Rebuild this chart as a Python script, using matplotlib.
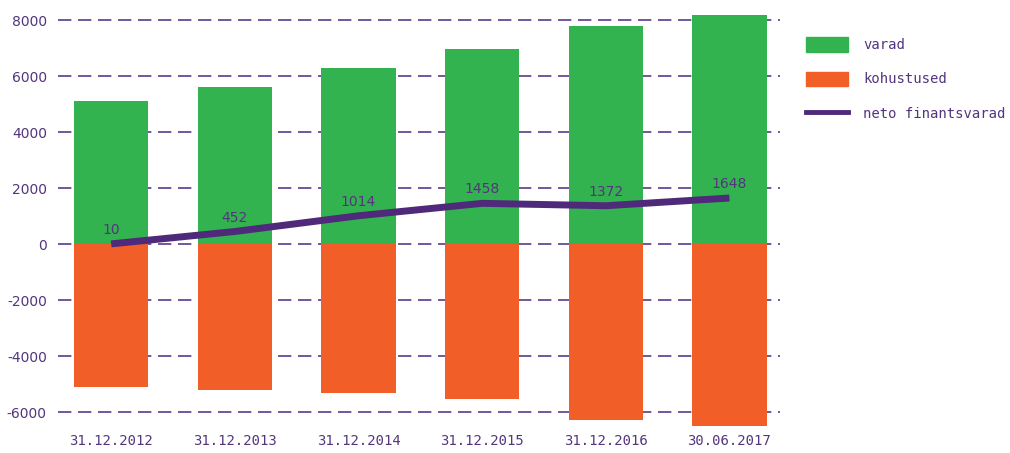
import matplotlib
matplotlib.use("Agg")
import matplotlib.pyplot as plt
import numpy as np
from matplotlib.patches import Patch
from matplotlib.lines import Line2D

dates = ["31.12.2012", "31.12.2013", "31.12.2014", "31.12.2015", "31.12.2016", "30.06.2017"]
assets = [5100, 5610, 6290, 6960, 7790, 8180]
liabilities = [-5100, -5210, -5320, -5540, -6280, -6500]
net = [10, 452, 1014, 1458, 1372, 1648]

GREEN = "#33b34f"
ORANGE = "#f15e28"
PURPLE = "#4f2a7a"
GRID = "#5b3a8c"
TEXT = "#53357e"

plt.rcParams["axes.unicode_minus"] = False

fig = plt.figure(figsize=(10.1, 4.53), dpi=100)
ax = fig.add_axes([0.0574, 0.053, 0.715, 0.918])

x = np.arange(len(dates))
ax.bar(x, assets, width=0.6, color=GREEN, zorder=2)
ax.bar(x, liabilities, width=0.6, color=ORANGE, zorder=2)
ax.plot(x, net, color=PURPLE, lw=5, zorder=3, solid_capstyle="butt")

for xi, v in zip(x, net):
    ax.annotate(str(v), (xi, v), xytext=(0, 5), textcoords="offset points",
                ha="center", va="bottom", color=TEXT, fontsize=10, zorder=4)

ax.set_xlim(-0.43, 5.41)
ax.set_ylim(-6600, 8250)
ax.set_yticks(np.arange(-6000, 8001, 2000))
ax.yaxis.grid(True, color=GRID, lw=1.2, linestyle=(0, (8, 4)), zorder=0)
ax.set_axisbelow(True)
for s in ax.spines.values():
    s.set_visible(False)
ax.tick_params(length=0, colors=TEXT, labelsize=10)
ax.tick_params(axis="y", pad=8)
ax.set_xticks(x)
ax.set_xticklabels(dates, family="DejaVu Sans Mono", fontsize=10)

handles = [Patch(color=GREEN), Patch(color=ORANGE), Line2D([], [], color=PURPLE, lw=3.5)]
leg = fig.legend(handles, ["varad", "kohustused", "neto finantsvarad"],
                 loc="upper left", bbox_to_anchor=(0.786, 0.945), frameon=False,
                 handlelength=3.0, handleheight=1.2, labelspacing=1.4, handletextpad=1.1,
                 prop={"family": "DejaVu Sans Mono", "size": 10})
for t in leg.get_texts():
    t.set_color(TEXT)

fig.savefig("out.png", dpi=100)
